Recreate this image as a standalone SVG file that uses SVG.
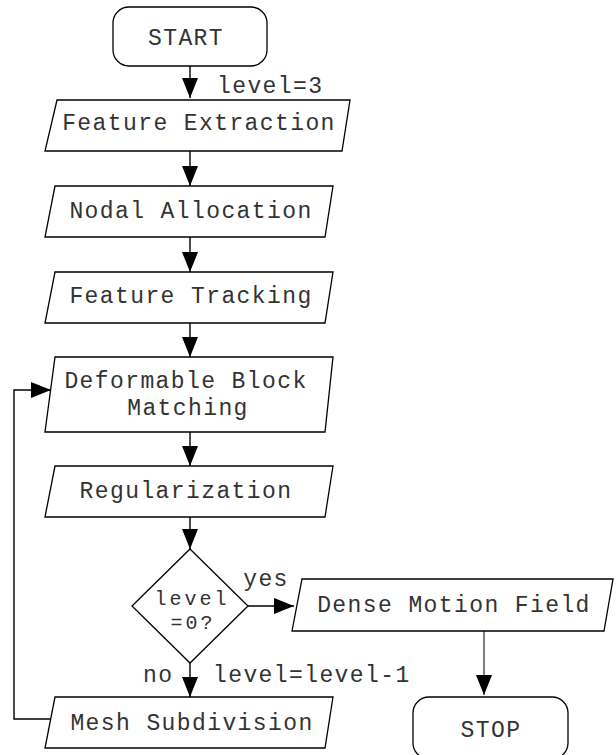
<svg xmlns="http://www.w3.org/2000/svg" width="616" height="755" viewBox="0 0 616 755">
  <style>
    .box { fill: #fff; stroke: #000; stroke-width: 1.3; }
    .t { font-family: "Liberation Mono", "Courier New", monospace; font-size: 23px; letter-spacing: 1.4px; fill: #333; }
    .small { font-size: 20px; letter-spacing: 3px; }
    .c { text-anchor: middle; }
    .link { fill: none; stroke: #000; stroke-width: 1.4; }
    .thin { stroke-width: 1; }
  </style>
  <defs>
    <marker id="arrow" markerUnits="userSpaceOnUse" markerWidth="20" markerHeight="16" refX="20" refY="8" orient="auto">
      <path d="M0,0 L20,8 L0,16 z" fill="#000"/>
    </marker>
  </defs>

  <rect width="616" height="755" fill="#fff"/>

  <!-- connectors -->
  <g id="connectors">
    <line class="link" x1="190" y1="66" x2="190" y2="98" marker-end="url(#arrow)"/>
    <line class="link" x1="190" y1="151" x2="190" y2="186" marker-end="url(#arrow)"/>
    <line class="link" x1="190" y1="237" x2="190" y2="272" marker-end="url(#arrow)"/>
    <line class="link" x1="190" y1="323" x2="190" y2="357" marker-end="url(#arrow)"/>
    <line class="link" x1="190" y1="432" x2="190" y2="466" marker-end="url(#arrow)"/>
    <line class="link" x1="190" y1="517" x2="190" y2="549" marker-end="url(#arrow)"/>
    <line class="link" x1="248" y1="606" x2="294" y2="606" marker-end="url(#arrow)"/>
    <line class="link thin" x1="484" y1="631" x2="484" y2="695" marker-end="url(#arrow)"/>
    <line class="link" x1="190" y1="663" x2="190" y2="697" marker-end="url(#arrow)"/>
    <polyline class="link" points="50,719 14,719 14,390 51,390" marker-end="url(#arrow)"/>
    <text class="t" x="217" y="93">level=3</text>
    <text class="t c" x="266" y="586">yes</text>
    <text class="t" x="143" y="682">no</text>
    <text class="t" x="213" y="682">level=level-1</text>
  </g>

  <g id="start">
    <rect class="box" x="113" y="7" width="154" height="59" rx="16"/>
    <text class="t c" x="186" y="45">START</text>
  </g>

  <g id="feature-extraction">
    <polygon class="box" points="57,100 350,100 342,151 45,151"/>
    <text class="t c" x="199" y="130">Feature Extraction</text>
  </g>

  <g id="nodal-allocation">
    <polygon class="box" points="55,186 333,186 325,237 45,237"/>
    <text class="t c" x="191" y="218">Nodal Allocation</text>
  </g>

  <g id="feature-tracking">
    <polygon class="box" points="55,272 333,272 325,323 45,323"/>
    <text class="t c" x="191" y="303">Feature Tracking</text>
  </g>

  <g id="deformable-block-matching">
    <polygon class="box" points="55,357 333,357 325,432 45,432"/>
    <text class="t c" x="186" y="388">Deformable Block</text>
    <text class="t c" x="188" y="415">Matching</text>
  </g>

  <g id="regularization">
    <polygon class="box" points="55,466 333,466 325,517 45,517"/>
    <text class="t c" x="186" y="498">Regularization</text>
  </g>

  <g id="level-check">
    <polygon class="box" points="190,549 248,606 190,663 132,606"/>
    <text class="t small c" x="192" y="605">level</text>
    <text class="t small c" x="193" y="629">=0?</text>
  </g>

  <g id="dense-motion-field">
    <polygon class="box" points="302,579 613,579 604,631 292,631"/>
    <text class="t c" x="454" y="612">Dense Motion Field</text>
  </g>

  <g id="mesh-subdivision">
    <polygon class="box" points="55,697 333,697 325,748 45,748"/>
    <text class="t c" x="192" y="730">Mesh Subdivision</text>
  </g>

  <g id="stop">
    <rect class="box" x="413" y="697" width="155" height="62" rx="16"/>
    <text class="t c" x="491" y="737">STOP</text>
  </g>
</svg>
